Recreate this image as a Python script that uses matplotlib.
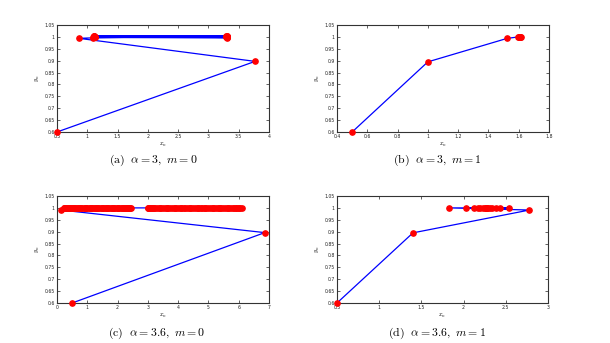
import matplotlib
matplotlib.use("Agg")
import matplotlib.pyplot as plt
from matplotlib.ticker import FormatStrFormatter

plt.rcParams['mathtext.fontset'] = 'cm'

# (a) alpha = 3, m = 0 : orbit settling onto a period-2 cycle
xa = [0.5, 3.77, 0.86,
      1.10, 3.30, 1.11, 3.31, 1.12, 3.29, 1.11, 3.30, 1.12, 3.30,
      1.11, 3.31, 1.10, 3.30, 1.11, 3.29, 1.12, 3.30, 1.11, 3.30]
ya = [0.6, 0.897, 0.994,
      0.9960, 1.0045, 1.0040, 0.9960, 0.9975, 1.0030, 1.0030, 0.9975,
      0.9985, 1.0020, 1.0020, 0.9985, 0.9990, 1.0010, 1.0010, 0.9992,
      0.9996, 1.0004, 1.0002, 1.0]

# (b) alpha = 3, m = 1 : orbit converging to a fixed point
xb = [0.5, 1.0, 1.525, 1.595, 1.615, 1.600, 1.611, 1.604, 1.608, 1.606]
yb = [0.6, 0.895, 0.994, 0.9995, 1.0, 1.0, 1.0, 1.0, 1.0, 1.0]

# (c) alpha = 3.6, m = 0 : chaotic orbit
xc = [0.5, 6.86, 0.13,
      0.22, 6.05, 0.35, 5.80, 0.52, 5.55, 0.70, 5.30, 0.88, 5.05, 1.05,
      4.80, 1.22, 4.55, 1.40, 4.30, 1.58, 4.05, 1.75, 3.80, 1.92, 3.55,
      2.10, 3.30, 2.28, 3.10, 2.42, 3.02, 2.35, 3.18, 2.18, 3.42, 2.00,
      3.68, 1.83, 3.92, 1.66, 4.18, 1.48, 4.42, 1.30, 4.68, 1.12, 4.92,
      0.95, 5.18, 0.78, 5.42, 0.60, 5.68, 0.45, 5.92, 0.30, 6.10, 0.27,
      5.98, 0.40, 5.74, 0.56, 5.48, 0.74, 5.24, 0.92, 4.98, 1.10, 4.74,
      1.27, 4.49, 1.45, 4.24, 1.62, 3.98, 1.80, 3.74, 1.97, 3.49, 2.14,
      3.24, 2.32, 3.06, 2.45, 3.00,
      2.39, 3.14, 2.24, 3.36, 2.06, 3.62, 1.88, 3.86, 1.70, 4.11, 1.53,
      4.36, 1.35, 4.61, 1.17, 4.86, 1.00, 5.11, 0.83, 5.36, 0.65, 5.61,
      0.49, 5.86, 0.33, 6.02, 0.24, 5.90, 0.42, 5.64, 0.58, 5.38, 0.76,
      5.14, 0.97, 4.89, 1.15, 4.64, 1.33, 4.39, 1.51, 4.14, 1.69, 3.89,
      1.86, 3.64, 2.03, 3.39, 2.21, 3.20, 2.37, 3.04]
yc = [0.6, 0.896, 0.991] + [1.0] * (len(xc) - 3)

# (d) alpha = 3.6, m = 1 : damped oscillation towards a fixed point
xd = [0.5, 1.40, 2.78, 1.83, 2.54, 2.03, 2.43, 2.12, 2.38, 2.17, 2.34,
      2.20, 2.31, 2.23, 2.29, 2.25, 2.28, 2.26, 2.27]
yd = [0.6, 0.895, 0.991] + [1.0] * (len(xd) - 3)

panels = [
    (xa, ya, (0.5, 4.0), [0.5, 1, 1.5, 2, 2.5, 3, 3.5, 4], r"$\mathrm{(a)}\ \ \alpha = 3,\ m = 0$"),
    (xb, yb, (0.4, 1.8), [0.4, 0.6, 0.8, 1.0, 1.2, 1.4, 1.6, 1.8], r"$\mathrm{(b)}\ \ \alpha = 3,\ m = 1$"),
    (xc, yc, (0.0, 7.0), [0, 1, 2, 3, 4, 5, 6, 7], r"$\mathrm{(c)}\ \ \alpha = 3.6,\ m = 0$"),
    (xd, yd, (0.5, 3.0), [0.5, 1, 1.5, 2, 2.5, 3], r"$\mathrm{(d)}\ \ \alpha = 3.6,\ m = 1$"),
]
yticks = [0.6, 0.65, 0.7, 0.75, 0.8, 0.85, 0.9, 0.95, 1.0, 1.05]

W, H = 610, 343
fig = plt.figure(figsize=(W / 100, H / 100), dpi=100)
fig.patch.set_facecolor('white')

# axes boxes in pixel units: left, top, right, bottom
boxes = [(57, 25, 269, 132), (337, 25, 549, 132),
         (57, 196, 269, 303), (337, 196, 548, 303)]
captions_xy = [(153, 160), (437, 160), (157, 333), (437, 333)]

for (x, y, xlim, xt, cap), (l, t, r, b), (cx, cy) in zip(panels, boxes, captions_xy):
    ax = fig.add_axes([l / W, 1 - b / H, (r - l) / W, (b - t) / H])
    ax.plot(x, y, '-', color='blue', lw=0.9, zorder=2)
    ax.plot(x, y, 'o', color='red', mec='red', ms=3.8, lw=0, zorder=3, clip_on=False)
    ax.set_xlim(*xlim)
    ax.set_ylim(0.6, 1.05)
    ax.set_xticks(xt)
    ax.set_yticks(yticks)
    ax.xaxis.set_major_formatter(FormatStrFormatter('%g'))
    ax.yaxis.set_major_formatter(FormatStrFormatter('%g'))
    ax.tick_params(direction='in', length=2, width=0.5, labelsize=3.3,
                   top=True, right=True, pad=1.5, colors='#222222')
    for s in ax.spines.values():
        s.set_linewidth(0.8)
        s.set_color('#333333')
    ax.set_xlabel(r'$x_n$', fontsize=4.5, labelpad=1)
    ax.set_ylabel(r'$y_n$', fontsize=4.5, labelpad=2)
    fig.text(cx / W, 1 - cy / H, cap, ha='center', va='center', fontsize=8.5)

fig.savefig('out.png', dpi=100)
